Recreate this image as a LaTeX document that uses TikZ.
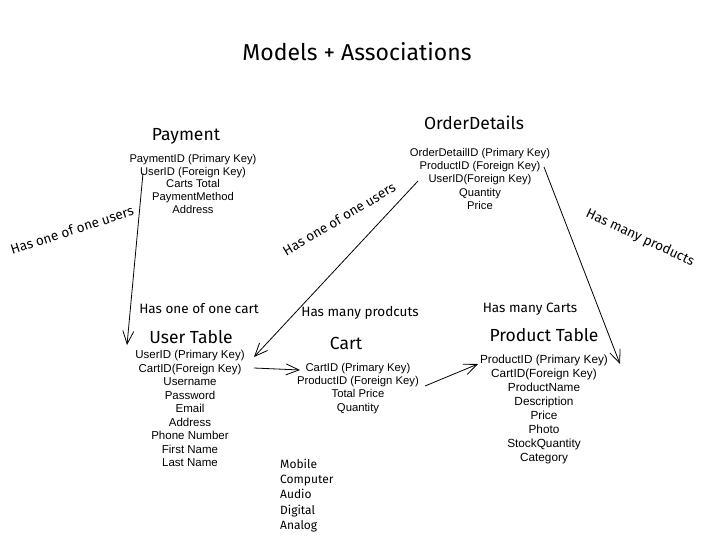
\documentclass[tikz,border=0pt]{standalone}
\usepackage{fontspec}
\setmainfont{Liberation Sans}
\newfontfamily\handfont{Fira Sans}
\usetikzlibrary{arrows.meta}
\tikzset{
  hand/.style={font=\handfont\fontsize{13.5}{16}\selectfont, inner sep=0pt, text=black},
  headtext/.style={font=\handfont\fontsize{17.5}{20}\selectfont, inner sep=0pt},
  fields/.style={font=\fontsize{11.5}{13.5}\selectfont, align=center, inner sep=0pt, anchor=north},
  rel/.style={draw=black, line width=0.8pt, -{Straight Barb[length=13pt,width=11pt,line width=0.8pt]}}
}
\begin{document}
\begin{tikzpicture}[x=1pt,y=-1pt]
\useasboundingbox[fill=white] (0,0) rectangle (720,552);
% title
\node[font=\handfont\fontsize{23}{27}\selectfont, inner sep=0pt] (title) at (357,52) {Models + Associations};
% Payment
\node[headtext] (payH) at (186,136) {Payment};
\node[fields, font=\fontsize{11.2}{12.8}\selectfont] (pay) at (193,154) {PaymentID (Primary Key)\\UserID (Foreign Key)\\Carts Total\\PaymentMethod\\Address};
% OrderDetails
\node[headtext] (odH) at (474,123) {OrderDetails};
\node[fields, font=\fontsize{11.2}{13.3}\selectfont] (od) at (480,148) {OrderDetailID (Primary Key)\\ProductID (Foreign Key)\\UserID(Foreign Key)\\Quantity\\Price};
% User
\node[headtext] (userH) at (191,337) {User Table};
\node[fields] (user) at (190,350) {UserID (Primary Key)\\CartID(Foreign Key)\\Username\\Password\\Email\\Address\\Phone Number\\First Name\\Last Name};
% Cart
\node[headtext] (cartH) at (346,343) {Cart};
\node[fields, font=\fontsize{11.3}{13.3}\selectfont] (cart) at (358,363) {CartID (Primary Key)\\ProductID (Foreign Key)\\Total Price\\Quantity};
% Product
\node[headtext] (prodH) at (544,335) {Product Table};
\node[fields, font=\fontsize{11.8}{14}\selectfont] (prod) at (544,355) {ProductID (Primary Key)\\CartID(Foreign Key)\\ProductName\\Description\\Price\\Photo\\StockQuantity\\Category};
% categories
\node[hand, font=\handfont\fontsize{12}{15.2}\selectfont, align=left, anchor=north west] (cats) at (280,459) {Mobile\\Computer\\Audio\\Digital\\Analog};
% relation labels
\node[hand, rotate=18] (l1) at (72,230) {Has one of one users};
\node[hand] (l2) at (199,309) {Has one of one cart};
\node[hand, rotate=31] (l3) at (339,219) {Has one of one users};
\node[hand] (l4) at (360,313) {Has many prodcuts};
\node[hand] (l5) at (530,309) {Has many Carts};
\node[hand, rotate=-25] (l6) at (640,238) {Has many products};
% connector ends
\coordinate (a1s) at (143,173);
\coordinate (a1e) at (127,345);
\coordinate (a2s) at (418,181);
\coordinate (a2e) at (254,357);
\coordinate (a3s) at (544,167);
\coordinate (a3e) at (620,364);
\coordinate (a4s) at (254,368);
\coordinate (a4e) at (300,370);
\coordinate (a5s) at (425,386);
\coordinate (a5e) at (478,364);
\draw[rel] (a1s) -- (a1e);
\draw[rel] (a2s) -- (a2e);
\draw[rel] (a3s) -- (a3e);
\draw[rel] (a4s) -- (a4e);
\draw[rel] (a5s) -- (a5e);
\end{tikzpicture}
\end{document}
